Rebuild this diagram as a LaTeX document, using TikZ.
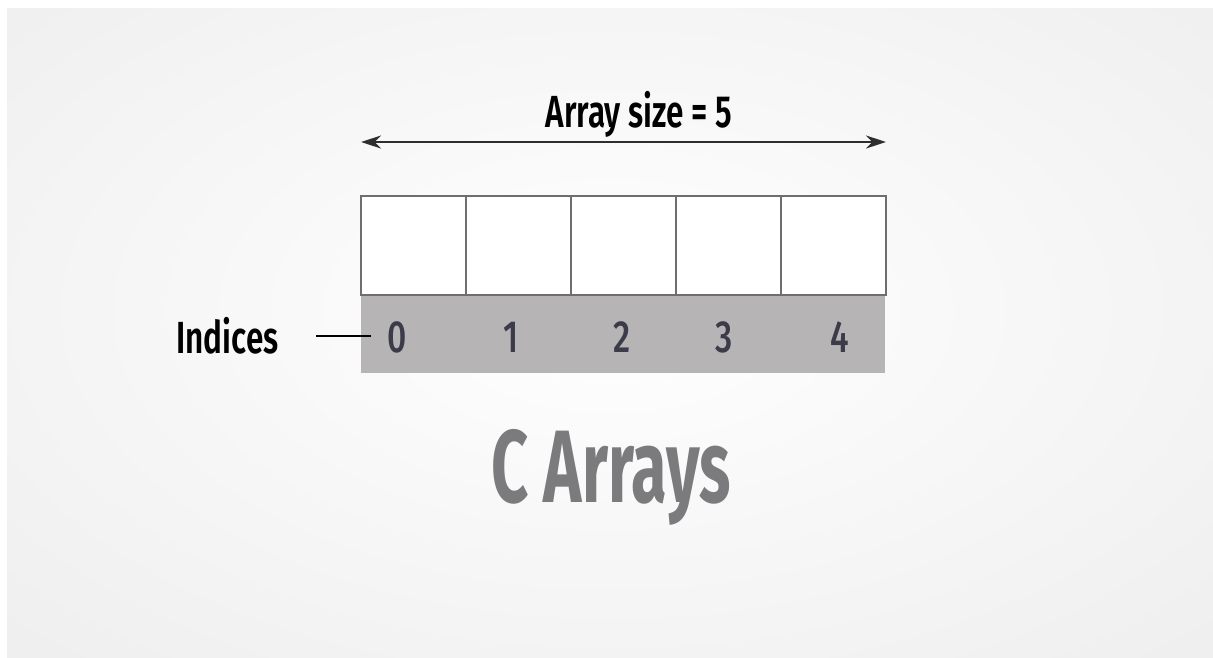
\documentclass[tikz,border=0pt]{standalone}
\usepackage{fontspec}
\usetikzlibrary{arrows.meta}
\newfontfamily\cndlabel[FakeStretch=0.70]{Fira Sans SemiBold}
\newfontfamily\cnddigit[FakeStretch=0.75]{Fira Sans Medium}
\newfontfamily\cndtitle[FakeStretch=0.63]{Fira Sans}
\definecolor{bggray}{HTML}{EFEFEF}
\definecolor{bandgray}{HTML}{B7B4B5}
\definecolor{cellline}{HTML}{6E6E6E}
\definecolor{digitcol}{HTML}{3B3B4A}
\definecolor{titlecol}{HTML}{7B7B7D}
\definecolor{arrowcol}{HTML}{2E2E2E}
\tikzset{
  cell/.style={draw=cellline, line width=2pt, minimum width=105pt, minimum height=99pt, inner sep=0pt, fill=white},
  digit/.style={anchor=base, inner sep=0pt, text=digitcol, font=\cnddigit\fontsize{45}{50}\selectfont},
  label/.style={anchor=base, inner sep=0pt, text=black, font=\cndlabel\fontsize{45}{50}\selectfont},
  title/.style={anchor=base, inner sep=0pt, text=titlecol, font=\cndtitle\bfseries\fontsize{103}{110}\selectfont},
  sizearrow/.style={draw=arrowcol, line width=2pt, {Stealth[length=20pt,width=13pt]}-{Stealth[length=20pt,width=13pt]}},
  pointer/.style={draw=black, line width=1.6pt}
}
\begin{document}
\begin{tikzpicture}[x=1pt,y=-1pt]
\useasboundingbox (0,0) rectangle (1213,657);
\fill[white] (0,0) rectangle (1213,657);
\fill[bggray] (7,8) rectangle (1220,665);
\begin{scope}
  \clip (7,8) rectangle (1220,665);
  \shade[inner color=white, outer color=bggray] (612,310) ellipse [x radius=840, y radius=470];
\end{scope}
% size arrow
\coordinate (aL) at (361,142);
\coordinate (aR) at (886,142);
\draw[sizearrow] (aL) -- (aR);
\node[label] (size) at (639,127) {Array size = 5};
% index band
\fill[bandgray] (361,295) rectangle (885,373);
% cells
\foreach \i in {0,...,4}{
  \node[cell] (c\i) at ({413.5+105*\i},245.5) {};
}
% digits
\node[digit] (d0) at (397,352) {0};
\node[digit] (d1) at (511,352) {1};
\node[digit] (d2) at (622,352) {2};
\node[digit] (d3) at (724,352) {3};
\node[digit] (d4) at (840,352) {4};
% indices label
\node[label] (ind) at (227.5,353) {Indices};
\coordinate (pS) at (316,336);
\coordinate (pE) at (371,336);
\draw[pointer] (pS) -- (pE);
% title
\node[title] (ttl) at (611,502) {C Arrays};
\end{tikzpicture}
\end{document}
